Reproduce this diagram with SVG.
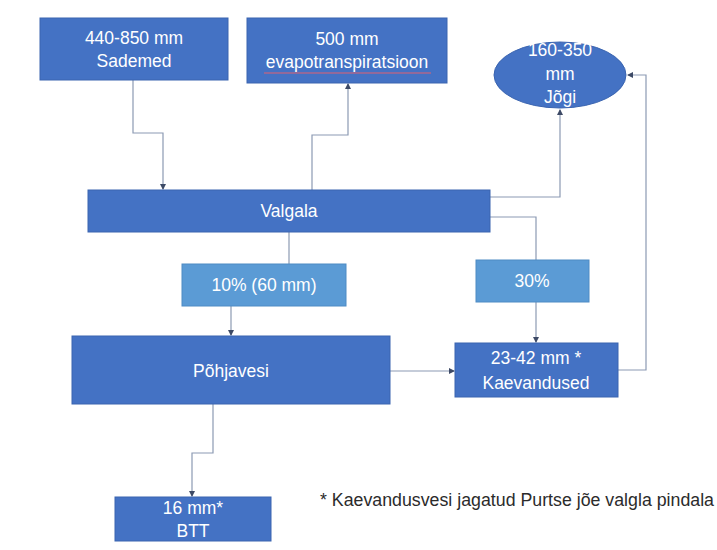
<svg xmlns="http://www.w3.org/2000/svg" width="717" height="550" viewBox="0 0 717 550">
<defs>
<style>
.box{fill:#4472c4;stroke:#3a64b0;stroke-width:1}
.lbox{fill:#5b9bd5;stroke:#4f8bc4;stroke-width:1}
.t{font-family:"Liberation Sans","Open Sans",sans-serif;font-size:17.5px;fill:#ffffff;text-anchor:middle}
.c{fill:none;stroke:#8c9ab3;stroke-width:1.2}
.note{font-family:"Liberation Sans","Open Sans",sans-serif;font-size:17.5px;fill:#2b2b2b}
</style>
<marker id="a" viewBox="0 0 6 6" refX="5" refY="3" markerWidth="5" markerHeight="5" orient="auto">
<path d="M0,0 L6,3 L0,6 z" fill="#3d4a66"/>
</marker>
</defs>
<rect width="717" height="550" fill="#ffffff"/>
<g id="connectors">
<path class="c" d="M133,80 V133 H163 V189" marker-end="url(#a)"/>
<path class="c" d="M312,190 V135 H348 V84" marker-end="url(#a)"/>
<path class="c" d="M490,197 H560 V110" marker-end="url(#a)"/>
<path class="c" d="M490,217 H536 V260"/>
<path class="c" d="M536,302 V342" marker-end="url(#a)"/>
<path class="c" d="M289,232 V264"/>
<path class="c" d="M231,306 V335" marker-end="url(#a)"/>
<path class="c" d="M390,371 H454" marker-end="url(#a)"/>
<path class="c" d="M618,370 H646 V75 H628" marker-end="url(#a)"/>
<path class="c" d="M213,404 V453 H192 V496" marker-end="url(#a)"/>
</g>
<g id="sademed">
<rect class="box" x="40" y="18" width="188" height="62"/>
<text class="t" x="134" y="44">440-850 mm</text>
<text class="t" x="134" y="67">Sademed</text>
</g>
<g id="evapotranspiratsioon">
<rect class="box" x="247" y="18" width="200" height="65"/>
<text class="t" x="347" y="45">500 mm</text>
<text class="t" x="347" y="68">evapotranspiratsioon</text>
<path d="M264,73 H431" stroke="#e06070" stroke-width="1" fill="none"/>
</g>
<g id="jogi">
<ellipse cx="560" cy="75" rx="66" ry="33" fill="#4472c4" stroke="#3a64b0" stroke-width="1"/>
<text class="t" x="560" y="56">160-350</text>
<text class="t" x="560" y="80">mm</text>
<text class="t" x="560" y="103">Jõgi</text>
</g>
<g id="valgala">
<rect class="box" x="88" y="190" width="402" height="42"/>
<text class="t" x="289" y="217">Valgala</text>
</g>
<g id="p10">
<rect class="lbox" x="182" y="264" width="164" height="42"/>
<text class="t" x="264" y="291">10% (60 mm)</text>
</g>
<g id="p30">
<rect class="lbox" x="476" y="260" width="113" height="42"/>
<text class="t" x="532" y="287">30%</text>
</g>
<g id="pohjavesi">
<rect class="box" x="72" y="336" width="318" height="68"/>
<text class="t" x="231" y="377">Põhjavesi</text>
</g>
<g id="kaevandused">
<rect class="box" x="455" y="343" width="163" height="54"/>
<text class="t" x="536" y="364">23-42 mm *</text>
<text class="t" x="536" y="389">Kaevandused</text>
</g>
<g id="btt">
<rect class="box" x="115" y="497" width="156" height="44"/>
<text class="t" x="193" y="514">16 mm*</text>
<text class="t" x="193" y="537">BTT</text>
</g>
<text class="note" x="320" y="506" textLength="394" lengthAdjust="spacingAndGlyphs">* Kaevandusvesi jagatud Purtse jõe valgla pindala</text>
</svg>
